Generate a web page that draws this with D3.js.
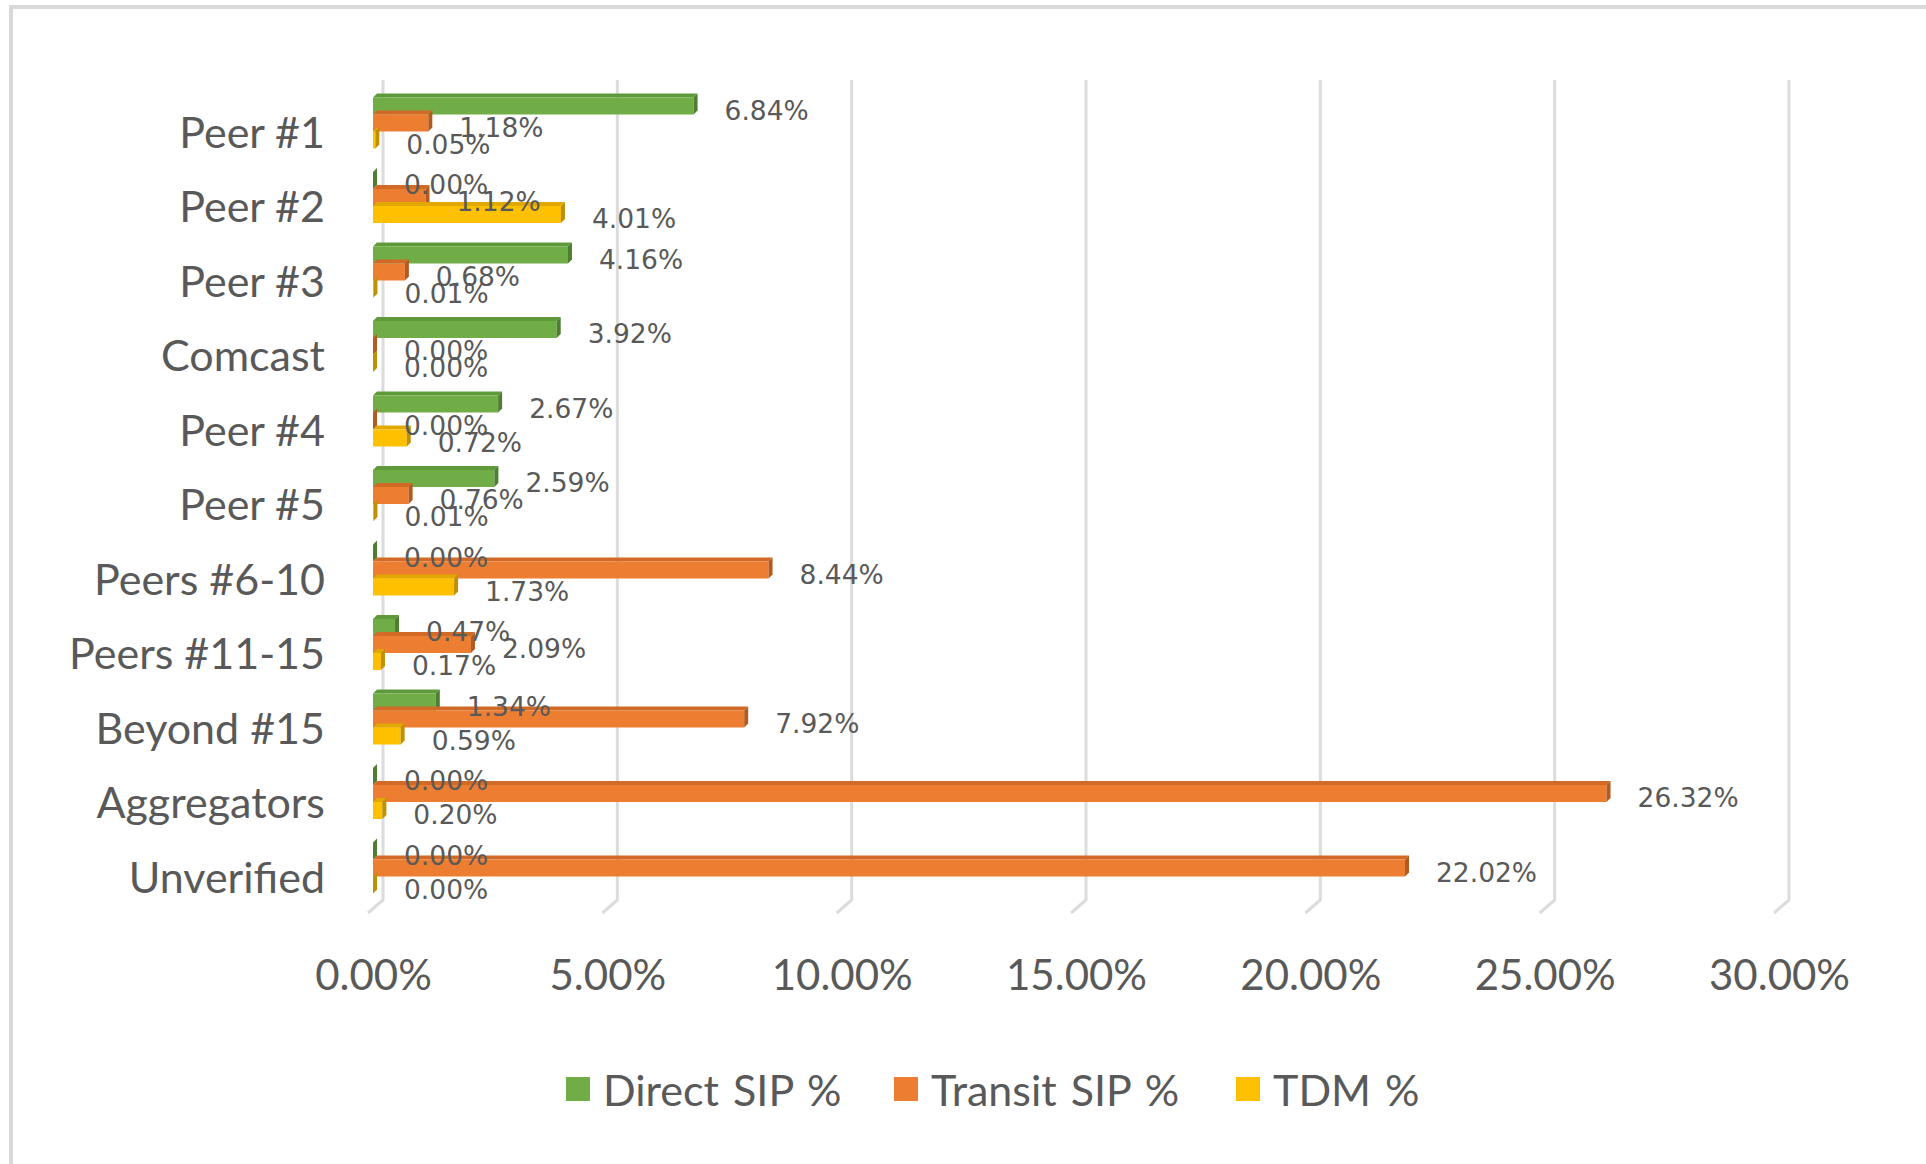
<!DOCTYPE html>
<html>
<head>
<meta charset="utf-8">
<script src="https://cdn.jsdelivr.net/npm/d3@7"></script>
<style>
  body { margin: 0; background: #fff; }
  svg { display: block; }
</style>
</head>
<body>
<div id="chart"></div>
<script>
// chart data
const categories = ['Peer #1', 'Peer #2', 'Peer #3', 'Comcast', 'Peer #4', 'Peer #5',
    'Peers #6-10', 'Peers #11-15', 'Beyond #15', 'Aggregators', 'Unverified'];
const directSip = [6.84, 0.00, 4.16, 3.92, 2.67, 2.59, 0.00, 0.47, 1.34, 0.00, 0.00];
const transitSip = [1.18, 1.12, 0.68, 0.00, 0.00, 0.76, 8.44, 2.09, 7.92, 26.32, 22.02];
const tdm = [0.05, 4.01, 0.01, 0.00, 0.72, 0.01, 1.73, 0.17, 0.59, 0.20, 0.00];
const seriesNames = ['Direct SIP %', 'Transit SIP %', 'TDM %'];
const xTicks = [0, 5, 10, 15, 20, 25, 30];

const colors = ['#70ad47', '#ed7d31', '#ffc000'];
const sideColors = ['#4f7d31', '#b35a1f', '#bf9000'];
const topColors = ['#5e9a3a', '#d06a26', '#e0a800'];

const width = 1926;
const height = 1164;
const textColor = '#595959';
const depth = 4; // fake 3d thickness of the bars

const svg = d3.select('#chart')
    .append('svg')
    .attr('width', width)
    .attr('height', height);

// outer chart border
svg.append('rect')
    .attr('x', 11)
    .attr('y', 7)
    .attr('width', width)
    .attr('height', height)
    .attr('fill', '#fff')
    .attr('stroke', '#d9d9d9')
    .attr('stroke-width', 4);

const x = d3.scaleLinear()
    .domain([0, 30])
    .range([373, 1779]);

const y = d3.scaleBand()
    .domain(categories)
    .range([85.75, 905.25]);

const inner = d3.scaleBand()
    .domain(seriesNames)
    .range([-25.5, 25.5]);

// back wall gridlines with the little floor slant
const grid = svg.append('g')
    .attr('stroke', '#dcdcdc')
    .attr('stroke-width', 3)
    .attr('fill', 'none');

grid.selectAll('path')
    .data(xTicks)
    .join('path')
    .attr('d', d => `M${x(d) + 10},80 L${x(d) + 10},900 L${x(d) - 5},913`);

// category labels
svg.append('g')
    .selectAll('text')
    .data(categories)
    .join('text')
    .attr('x', 325)
    .attr('y', d => y(d) + y.bandwidth() / 2 + 8)
    .attr('text-anchor', 'end')
    .attr('dominant-baseline', 'central')
    .attr('font-family', 'Lato, "Open Sans", sans-serif')
    .attr('font-size', 43)
    .attr('fill', textColor)
    .text(d => d);

// flatten to one record per bar
const seriesValues = [directSip, transitSip, tdm];
const bars = [];
seriesNames.forEach((s, si) => {
    categories.forEach((c, ci) => {
        bars.push({ series: s, si: si, cat: c, value: seriesValues[si][ci] });
    });
});

const barTop = d => y(d.cat) + y.bandwidth() / 2 + inner(d.series);
const bh = inner.bandwidth();

const barG = svg.append('g');

const barGroups = barG.selectAll('g')
    .data(bars)
    .join('g');

barGroups.append('path')
    .attr('fill', d => topColors[d.si])
    .attr('d', d => {
        const x0 = x(0), x1 = x(d.value), t = barTop(d);
        return `M${x0},${t} L${x1},${t} L${x1 + depth},${t - depth} L${x0 + depth},${t - depth}Z`;
    });

barGroups.append('rect')
    .attr('x', x(0))
    .attr('y', d => barTop(d))
    .attr('width', d => x(d.value) - x(0))
    .attr('height', bh)
    .attr('fill', d => colors[d.si]);

barGroups.append('path')
    .attr('fill', d => sideColors[d.si])
    .attr('d', d => {
        const x1 = x(d.value), t = barTop(d);
        return `M${x1},${t} L${x1 + depth},${t - depth} L${x1 + depth},${t + bh - depth} L${x1},${t + bh}Z`;
    });

// data labels
svg.append('g')
    .selectAll('text')
    .data(bars)
    .join('text')
    .attr('x', d => x(d.value) + 31)
    .attr('y', d => barTop(d) + bh / 2 + 4)
    .attr('dominant-baseline', 'central')
    .attr('font-family', '"DejaVu Sans", Verdana, sans-serif')
    .attr('font-size', 26.5)
    .attr('fill', textColor)
    .text(d => d.value.toFixed(2) + '%');

// x axis tick labels
const xAxis = svg.append('g')
    .attr('transform', 'translate(0,959)')
    .call(d3.axisBottom(x)
        .tickValues(xTicks)
        .tickSize(0)
        .tickPadding(0)
        .tickFormat(d => d.toFixed(2) + '%'));

xAxis.select('.domain').remove();
xAxis.selectAll('text')
    .attr('dy', null)
    .attr('y', 15)
    .attr('dominant-baseline', 'central')
    .attr('font-family', 'Lato, "Open Sans", sans-serif')
    .attr('font-size', 42)
    .attr('fill', textColor);

// legend
const legendX = [566, 894, 1236];
const legend = svg.append('g')
    .selectAll('g')
    .data(seriesNames)
    .join('g')
    .attr('transform', (d, i) => `translate(${legendX[i]},1089)`);

legend.append('rect')
    .attr('x', 0)
    .attr('y', -12)
    .attr('width', 24)
    .attr('height', 24)
    .attr('fill', (d, i) => colors[i]);

legend.append('text')
    .attr('x', 37)
    .attr('y', 0)
    .attr('dominant-baseline', 'central')
    .attr('font-family', 'Lato, "Open Sans", sans-serif')
    .attr('font-size', 43)
    .attr('word-spacing', 3)
    .attr('fill', textColor)
    .text(d => d);
</script>
</body>
</html>
